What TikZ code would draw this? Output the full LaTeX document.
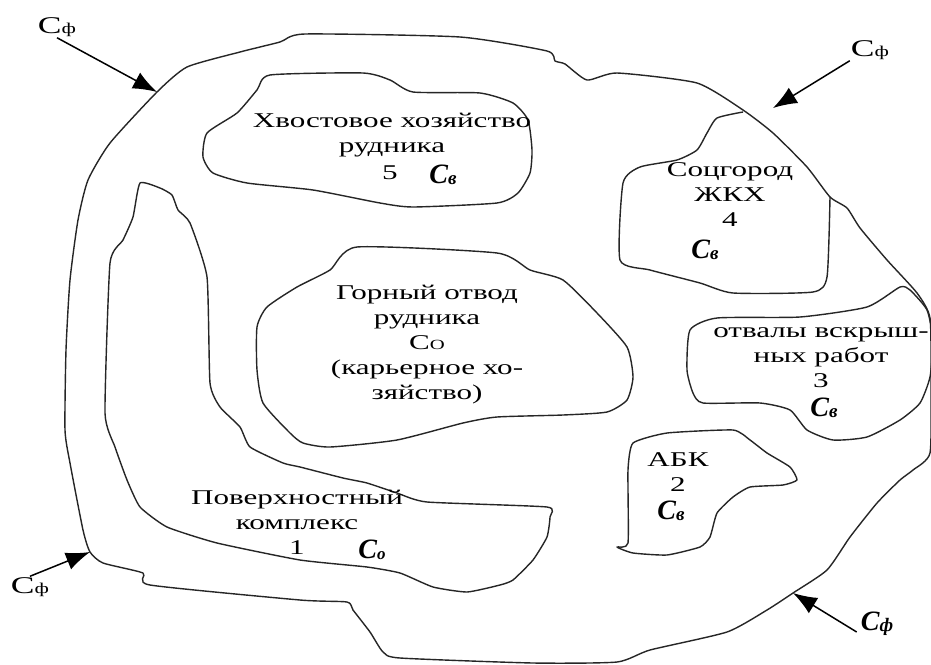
\documentclass[tikz,border=0pt]{standalone}
\usepackage{fontspec}
\setmainfont{Liberation Serif}
\newfontfamily\wserif[FakeStretch=1.48]{Liberation Serif}
\newfontfamily\handf{Liberation Serif}
\usetikzlibrary{arrows.meta}
\begin{document}
\begin{tikzpicture}[x=1pt,y=-1pt,
  region/.style={line width=1.4pt, draw=black!85, line join=round},
  lbl/.style={font=\wserif\fontsize{21}{25}\selectfont, align=center, inner sep=0pt, text=black},
  hw/.style={font=\handf\bfseries\itshape\fontsize{28}{28}\selectfont, inner sep=0pt, text=black},
  cflbl/.style={font=\wserif\fontsize{24}{25}\selectfont, inner sep=1pt, text=black},
  inflow/.style={line width=1.5pt, draw=black, -{Latex[length=24pt,width=18pt]}}]
\useasboundingbox (0,0) rectangle (931,664);
\fill[white] (0,0) rectangle (931,664);

% outer boundary
\draw[region] plot[smooth cycle, tension=0.35] coordinates {
 (78,220) (88,180) (110,143) (157,92) (187,67) (240,52) (280,42) (305,34) (460,37)
 (547,51) (555,61) (565,64) (587,80) (617,73) (697,83) (743,110) (773,133) (807,167)
 (830,197) (847,208) (860,228) (887,260) (917,293) (930,318) (931,383) (930,453)
 (913,470) (900,480) (877,503) (850,537) (827,570) (793,593) (767,610) (727,632)
 (650,650) (617,662) (533,663) (400,658) (383,652) (370,632) (353,610) (347,602)
 (300,600) (150,585) (143,573) (103,563) (90,552) (83,530) (70,463) (65,430)
 (66,350) (70,280)};

% 5 tailings
\draw[region] plot[smooth cycle, tension=0.35] coordinates {
 (270,75) (363,73) (390,80) (413,92) (480,93) (513,103) (528,120) (532,150) (530,173)
 (518,193) (497,203) (413,207) (380,203) (313,190) (247,183) (213,173) (203,157)
 (207,133) (237,113) (257,90)};

% 4 town (attached to outer boundary)
\draw[region] plot[smooth, tension=0.35] coordinates {
 (743,112) (717,118) (707,133) (697,150) (677,160) (640,167) (623,183) (620,260)
 (650,270) (700,283) (733,293) (813,292) (827,277) (830,197)};

% mining allotment
\draw[region] plot[smooth cycle, tension=0.35] coordinates {
 (357,247) (497,253) (530,270) (563,280) (597,313) (627,347) (633,377) (627,400)
 (607,412) (563,415) (497,417) (463,423) (397,440) (330,447) (303,443) (290,433)
 (263,403) (257,370) (257,327) (267,307) (297,287) (330,270)};

% 3 dumps
\draw[region] plot[smooth cycle, tension=0.35] coordinates {
 (690,330) (717,318) (800,317) (867,307) (900,287) (910,290) (927,310) (933,340)
 (930,377) (920,403) (900,420) (867,437) (833,440) (807,430) (790,410) (760,403)
 (703,403) (693,393) (687,370)};

% 2 ABK
\draw[region] plot[smooth cycle, tension=0.3] coordinates {
 (633,443) (667,433) (733,430) (750,440) (767,453) (790,467) (797,480) (783,485)
 (750,487) (733,497) (717,513) (710,537) (700,547) (667,555) (633,553) (617,547)
 (628,543) (628,470)};

% 1 surface complex
\draw[region] plot[smooth cycle, tension=0.3] coordinates {
 (140,183) (160,188) (172,195) (178,210) (190,223) (207,277) (210,383) (220,407)
 (240,427) (250,447) (283,463) (300,467) (343,478) (367,483) (397,493) (427,502)
 (547,507) (550,517) (547,537) (533,560) (513,580) (500,585) (467,592) (433,587)
 (400,573) (367,567) (300,560) (217,543) (167,527) (140,507) (127,480) (115,447)
 (105,413) (110,263) (123,240) (133,217)};

% labels
\node[lbl] (t5) at (392,135) {Хвостовое хозяйство\\рудника};
\node[lbl] (n5) at (390,173) {5};
\node[hw] (c5) at (443,175) {C\raisebox{-1pt}{\fontsize{19}{19}\selectfont в}};

\node[lbl] (t4) at (730,195) {Соцгород\\ЖКХ\\4};
\node[hw] (c4) at (705,250) {C\raisebox{-1pt}{\fontsize{19}{19}\selectfont в}};

\node[lbl] (tg) at (427,345) {Горный отвод\\рудника\\C{\fontsize{14}{14}\selectfont О}\\(карьерное хо-\\зяйство)};

\node[lbl] (t3) at (821,358) {отвалы вскрыш-\\ных работ\\3};
\node[hw] (c3) at (824,408) {C\raisebox{-1pt}{\fontsize{19}{19}\selectfont в}};

\node[lbl] (t2) at (678,472) {АБК\\2};
\node[hw] (c2) at (671,511) {C\raisebox{-1pt}{\fontsize{19}{19}\selectfont в}};

\node[lbl] (t1) at (297,522) {Поверхностный\\комплекс\\1};
\node[hw] (c1) at (372,550) {C\raisebox{-1pt}{\fontsize{17}{17}\selectfont o}};

% inflow labels and arrows
\node[cflbl] (cf1) at (57,27) {C{\fontsize{15}{15}\selectfont ф}};
\node[cflbl] (cf2) at (870,50) {C{\fontsize{15}{15}\selectfont ф}};
\node[cflbl] (cf3) at (30,587) {C{\fontsize{15}{15}\selectfont ф}};
\node[hw] (cf4) at (877,624) {C\raisebox{-1pt}{\fontsize{19}{19}\selectfont ф}};

\coordinate (p1) at (157,92);
\coordinate (p2) at (773,108);
\coordinate (p3) at (90,552);
\coordinate (p4) at (793,593);

\draw[inflow] (cf1.south) -- (p1);
\draw[inflow] (cf2.south west) -- (p2);
\draw[inflow] (cf3.north) -- (p3);
\draw[inflow] ([xshift=-4pt,yshift=4pt]cf4.south west) -- (p4);
\end{tikzpicture}
\end{document}
